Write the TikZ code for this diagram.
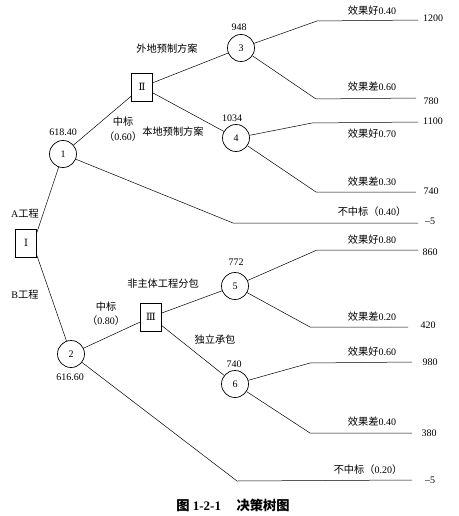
\documentclass[tikz,border=0pt]{standalone}
\usepackage{fontspec}
\setmainfont{Liberation Serif}
\newfontfamily\cjk{Noto Sans CJK SC}[Scale=1.02]
\newfontfamily\rmn{DejaVu Serif}
\begin{document}
\begin{tikzpicture}[x=1pt,y=-1pt,
  every node/.style={font=\fontsize{10}{12}\selectfont},
  chance/.style={circle,draw,line width=0.7pt,minimum size=27pt,inner sep=0pt},
  decision/.style={rectangle,draw,line width=0.7pt,minimum width=21pt,minimum height=28pt,inner sep=0pt},
  lbl/.style={inner sep=1pt},
  edge/.style={draw,line width=0.5pt}]
\useasboundingbox (0,0) rectangle (458,516);
% nodes
\node[decision] (I) at (26,243) {\rmn Ⅰ};
\node[chance] (c1) at (63,154) {1};
\node[chance] (c2) at (71,354) {2};
\node[decision] (II) at (142,87) {\rmn Ⅱ};
\node[decision] (III) at (151,317) {\rmn Ⅲ};
\node[chance] (c3) at (241,48) {3};
\node[chance] (c4) at (236,138) {4};
\node[chance] (c5) at (235,286) {5};
\node[chance] (c6) at (235,384) {6};
% corner and end coordinates
\coordinate (k31) at (317,21);  \coordinate (e31) at (418,20);
\coordinate (k32) at (316,99);  \coordinate (e32) at (416,98);
\coordinate (k41) at (312,123); \coordinate (e41) at (418,122);
\coordinate (k42) at (316,192); \coordinate (e42) at (416,192);
\coordinate (k1)  at (233,223); \coordinate (e1)  at (418,223);
\coordinate (k51) at (317,250); \coordinate (e51) at (418,250);
\coordinate (k52) at (310,327); \coordinate (e52) at (408,327);
\coordinate (k61) at (310,363); \coordinate (e61) at (412,362);
\coordinate (k62) at (310,433); \coordinate (e62) at (412,433);
\coordinate (k2)  at (237,481); \coordinate (e2)  at (412,480);
% connectors
\draw[edge] ([yshift=-4pt]I.north east) -- (c1);
\draw[edge] ([yshift=2pt]I.south east) -- (c2);
\draw[edge] (c1) -- (II);
\draw[edge] (c2) -- (III);
\draw[edge] (II) -- (c3);
\draw[edge] (II) -- (c4);
\draw[edge] (III) -- (c5);
\draw[edge] (III) -- (c6);
\draw[edge] (c3) -- (k31) -- (e31);
\draw[edge] (c3) -- (k32) -- (e32);
\draw[edge] (c4) -- (k41) -- (e41);
\draw[edge] (c4) -- (k42) -- (e42);
\draw[edge] (c1) -- (k1) -- (e1);
\draw[edge] (c5) -- (k51) -- (e51);
\draw[edge] (c5) -- (k52) -- (e52);
\draw[edge] (c6) -- (k61) -- (e61);
\draw[edge] (c6) -- (k62) -- (e62);
\draw[edge] (c2) -- (k2) -- (e2);
% labels
\node[lbl] (la) at (25,214) {A{\cjk 工程}};
\node[lbl] (lb) at (25,295) {B{\cjk 工程}};
\node[lbl] (v1) at (63,132) {618.40};
\node[lbl] (v2) at (70,377) {616.60};
\node[lbl] (v3) at (239,27) {948};
\node[lbl] (v4) at (232,118) {1034};
\node[lbl] (v5) at (236,262) {772};
\node[lbl] (v6) at (234,364) {740};
\node[lbl] (w1) at (167,49) {\cjk 外地预制方案};
\node[lbl] (w2) at (173,132) {\cjk 本地预制方案};
\node[lbl] (z1a) at (123,122) {\cjk 中标};
\node[lbl] (z1b) at (123,137) {{\cjk （}0.60{\cjk ）}};
\node[lbl] (z2a) at (106,307) {\cjk 中标};
\node[lbl] (z2b) at (106,321) {{\cjk （}0.80{\cjk ）}};
\node[lbl] (w3) at (163,284) {\cjk 非主体工程分包};
\node[lbl] (w4) at (215,340) {\cjk 独立承包};
\node[lbl] (p31) at (372,11) {{\cjk 效果好}0.40};
\node[lbl] (p32) at (372,87) {{\cjk 效果差}0.60};
\node[lbl] (p41) at (372,134) {{\cjk 效果好}0.70};
\node[lbl] (p42) at (372,182) {{\cjk 效果差}0.30};
\node[lbl] (p1) at (372,212) {{\cjk 不中标（}0.40{\cjk ）}};
\node[lbl] (p51) at (372,240) {{\cjk 效果好}0.80};
\node[lbl] (p52) at (372,317) {{\cjk 效果差}0.20};
\node[lbl] (p61) at (372,352) {{\cjk 效果好}0.60};
\node[lbl] (p62) at (372,422) {{\cjk 效果差}0.40};
\node[lbl] (p2) at (368,470) {{\cjk 不中标（}0.20{\cjk ）}};
\node[lbl] (r31) at (433,18) {1200};
\node[lbl] (r32) at (431,101) {780};
\node[lbl] (r41) at (433,121) {1100};
\node[lbl] (r42) at (431,191) {740};
\node[lbl] (r1) at (430,221) {–5};
\node[lbl] (r51) at (430,252) {860};
\node[lbl] (r52) at (428,325) {420};
\node[lbl] (r61) at (430,362) {980};
\node[lbl] (r62) at (429,433) {380};
\node[lbl] (r2) at (430,480) {–5};
\node[lbl,font=\fontsize{13}{15}\selectfont\bfseries] (cap) at (233,505) {{\cjk 图} 1-2-1\hspace{1.2em}{\cjk 决策树图}};
\end{tikzpicture}
\end{document}
